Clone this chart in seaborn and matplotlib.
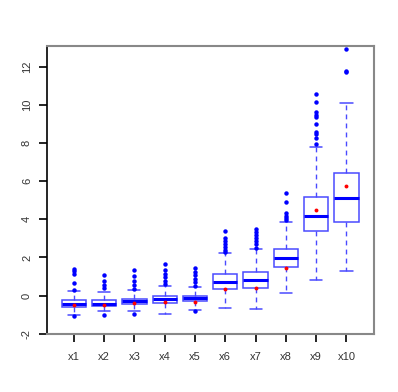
import pandas as pd
import seaborn as sns
import matplotlib.pyplot as plt

# categories and box summaries
labels = ['x1', 'x2', 'x3', 'x4', 'x5', 'x6', 'x7', 'x8', 'x9', 'x10']
whis_lo = [-1.02, -0.80, -0.80, -0.94, -0.75, -0.66, -0.71, 0.16, 0.82, 1.28]
q1 = [-0.59, -0.54, -0.45, -0.40, -0.28, 0.33, 0.42, 1.49, 3.39, 3.84]
median = [-0.42, -0.42, -0.28, -0.19, -0.10, 0.70, 0.80, 1.99, 4.17, 5.10]
q3 = [-0.24, -0.23, -0.16, 0.00, 0.00, 1.14, 1.26, 2.46, 5.18, 6.41]
whis_hi = [0.25, 0.19, 0.30, 0.51, 0.47, 2.22, 2.44, 3.84, 7.77, 10.10]
red_marks = [-0.49, -0.49, -0.38, -0.35, -0.31, 0.37, 0.40, 1.47, 4.47, 5.73]
outliers = [
    [1.40, 1.29, 1.12, 0.65, 0.30, -1.08],
    [1.10, 0.79, 0.58, 0.39, -1.01],
    [1.35, 1.03, 0.79, 0.56, 0.35, -0.98],
    [1.64, 1.33, 1.14, 0.96, 0.79, 0.61],
    [1.47, 1.26, 1.08, 0.87, 0.70, 0.52, -0.80],
    [3.40, 3.04, 2.88, 2.72, 2.57, 2.39, 2.27],
    [3.48, 3.34, 3.19, 3.04, 2.88, 2.72, 2.51],
    [5.36, 4.92, 4.31, 4.17, 4.05, 3.96],
    [10.56, 10.13, 9.63, 9.48, 9.34, 8.99, 8.59, 8.45, 8.24, 7.94],
    [12.95, 11.78, 11.71],
]
y_ticks = [-2, 0, 2, 4, 6, 8, 10, 12]

sns.set_style('ticks')
plt.rcParams['font.family'] = ['Liberation Sans', 'DejaVu Sans']

fig = plt.figure(figsize=(3.98, 3.92), dpi=100)
ax = fig.add_axes([0.117, 0.147, 0.822, 0.736])

# outliers and red points through seaborn on the categorical axis
out_df = pd.DataFrame(
    [(lab, v) for lab, vals in zip(labels, outliers) for v in vals],
    columns=['var', 'value'])
red_df = pd.DataFrame({'var': labels, 'value': red_marks})
sns.stripplot(data=out_df, x='var', y='value', order=labels, jitter=False,
              color='#0000ff', size=3.2, linewidth=0, ax=ax, zorder=3)

stats = []
for i, lab in enumerate(labels):
    stats.append({'label': lab, 'whislo': whis_lo[i], 'q1': q1[i],
                  'med': median[i], 'q3': q3[i], 'whishi': whis_hi[i],
                  'fliers': []})
box_col = '#4a4aff'
ax.bxp(stats, positions=range(len(labels)), widths=0.8, showfliers=False,
       patch_artist=True, manage_ticks=False,
       boxprops=dict(facecolor='white', edgecolor=box_col, linewidth=1.1),
       medianprops=dict(color='#0000ff', linewidth=2.2),
       whiskerprops=dict(color=box_col, linewidth=1.0, linestyle=(0, (3.5, 3))),
       capprops=dict(color=box_col, linewidth=1.1))

sns.stripplot(data=red_df, x='var', y='value', order=labels, jitter=False,
              color='#ff0000', size=2.8, linewidth=0, ax=ax, zorder=4)

ax.set_xlim(-0.9, 9.9)
ax.set_ylim(-2.03, 13.09)
ax.set_yticks(y_ticks)
ax.set_yticklabels([str(t) for t in y_ticks], rotation=90, va='center')
ax.set_xticks(range(len(labels)))
ax.set_xticklabels(labels)
ax.set_xlabel('')
ax.set_ylabel('')
ax.tick_params(axis='both', which='major', left=True, bottom=True,
               labelsize=8, labelcolor='#333333', color='black',
               length=5.5, width=1.2, direction='out')
ax.tick_params(axis='x', pad=7)
ax.tick_params(axis='y', pad=5)

for side in ['top', 'right', 'bottom']:
    ax.spines[side].set_visible(True)
    ax.spines[side].set_color('#888888')
    ax.spines[side].set_linewidth(1.5)
ax.spines['left'].set_color('black')
ax.spines['left'].set_linewidth(1.2)

fig.savefig('out.png', dpi=100)
